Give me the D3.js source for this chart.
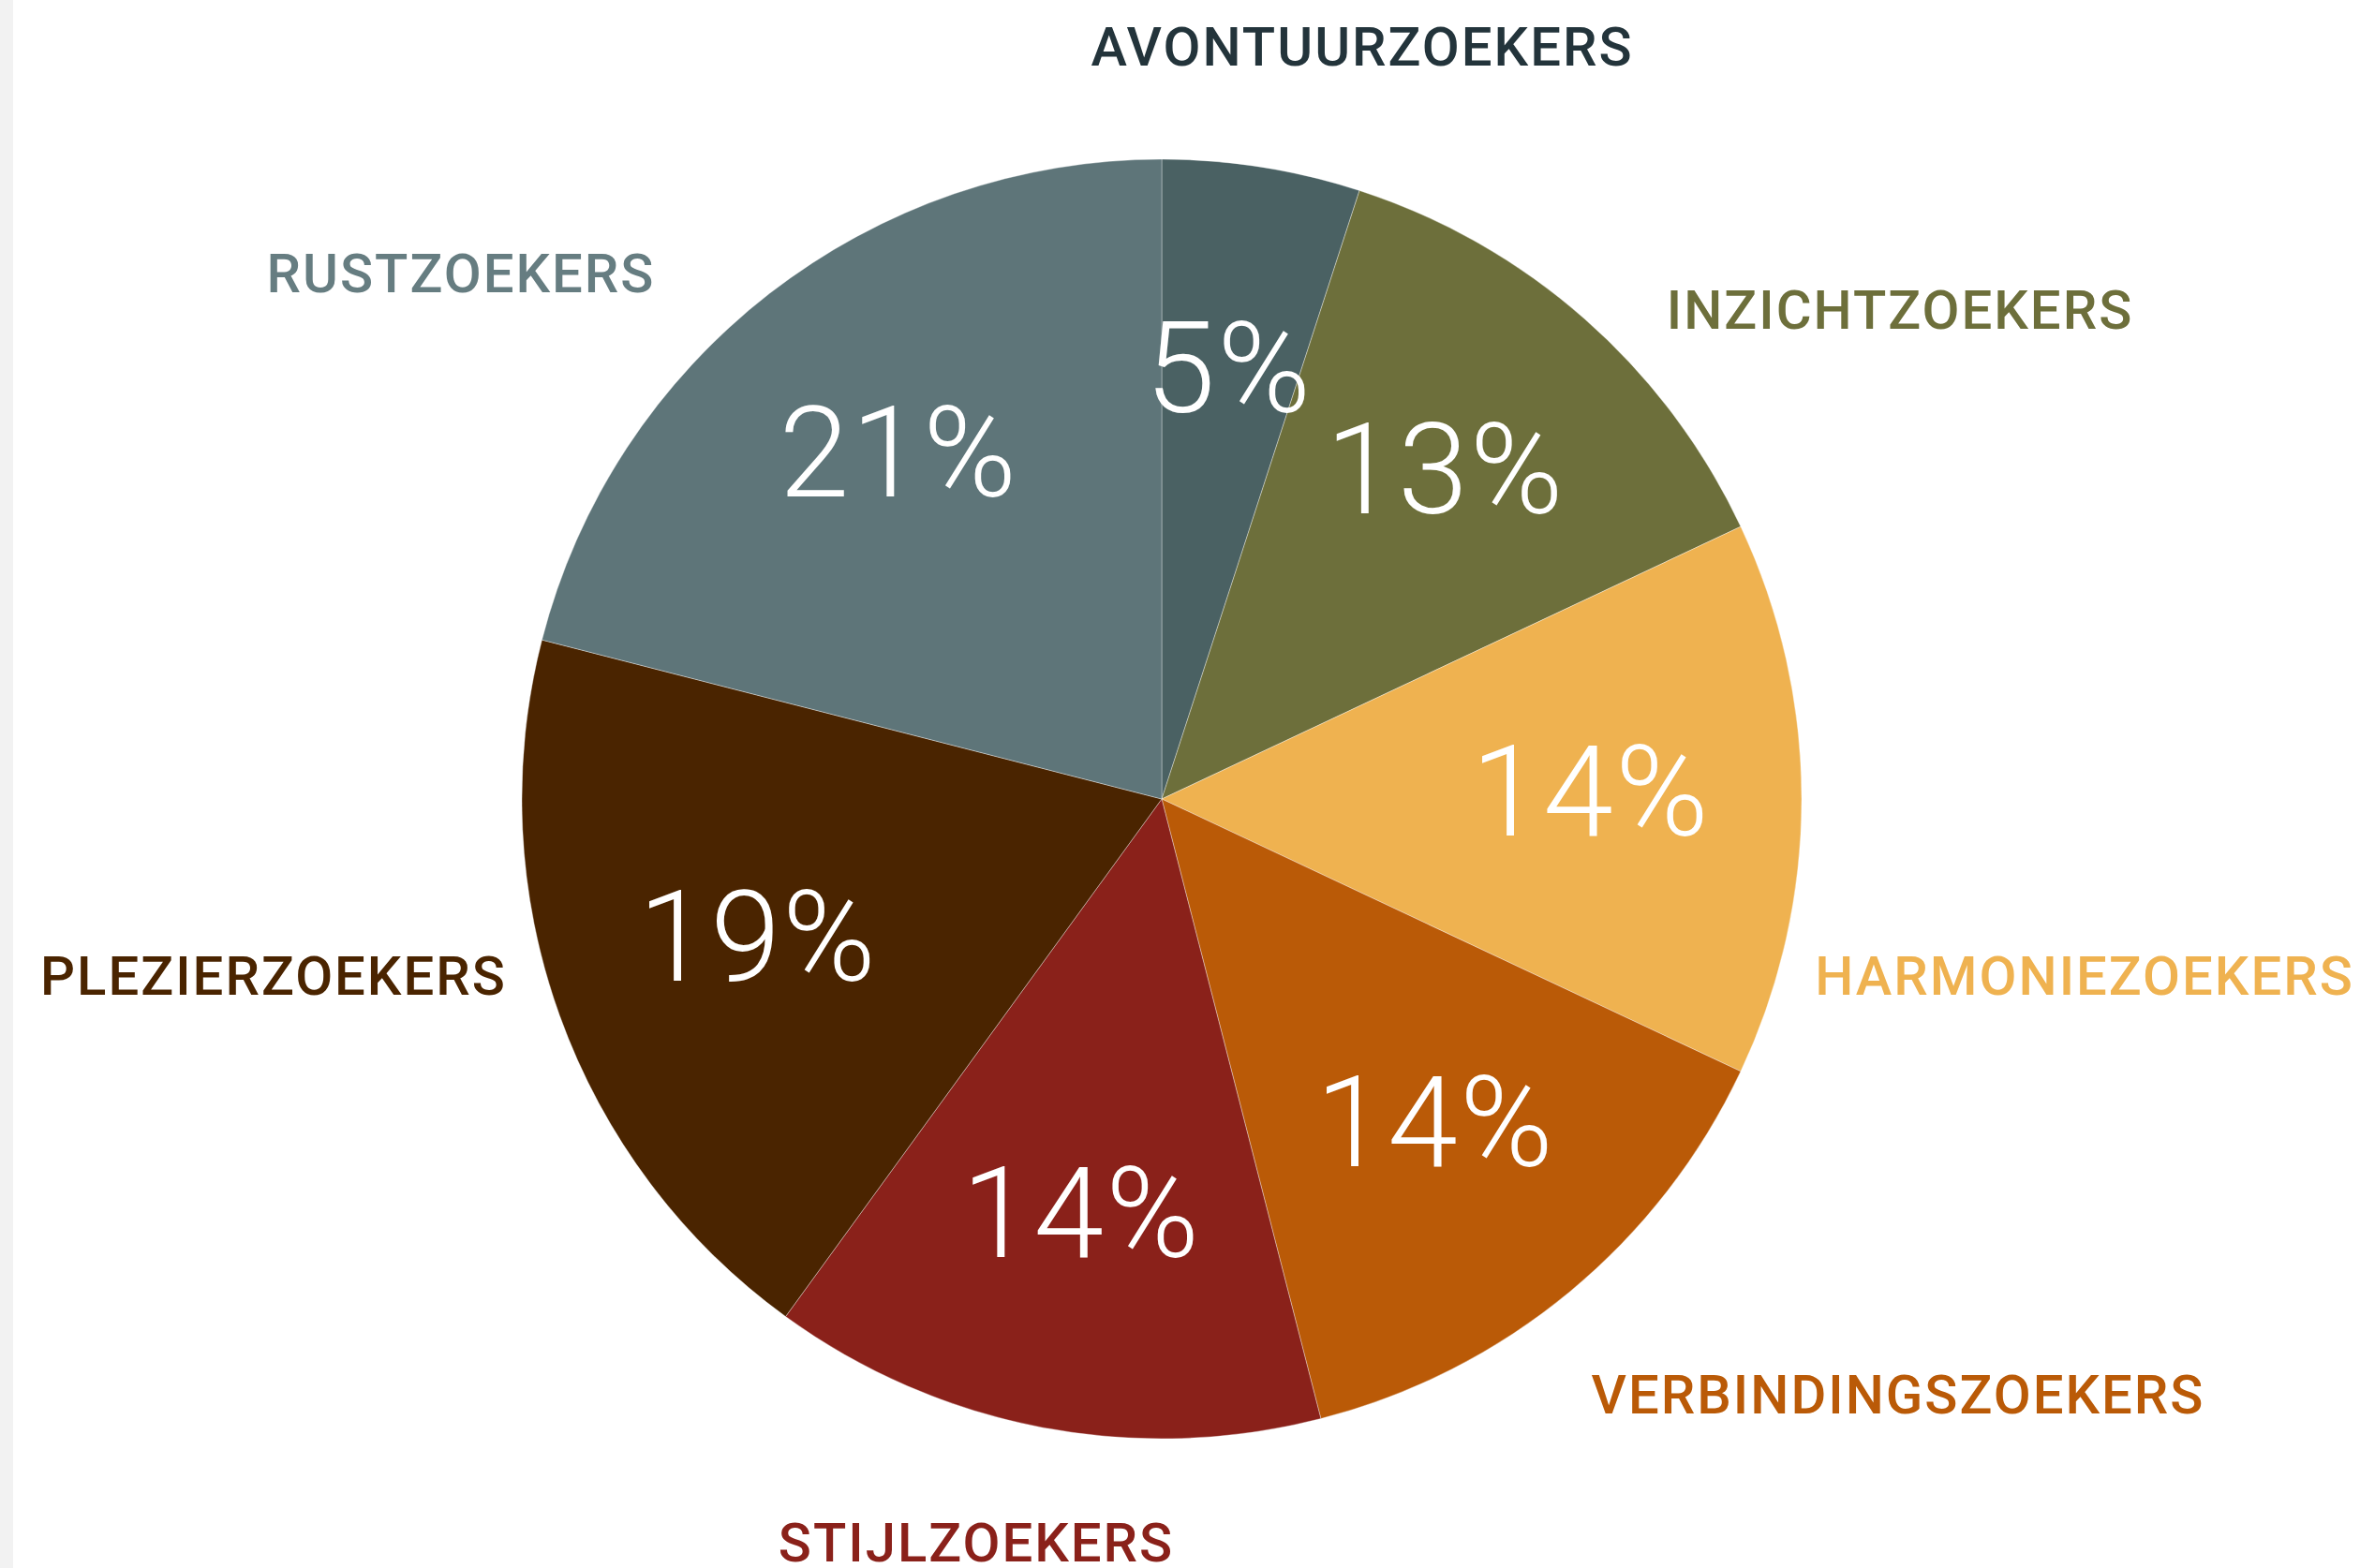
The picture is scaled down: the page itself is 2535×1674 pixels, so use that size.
<!DOCTYPE html>
<html>
<head>
<meta charset="utf-8">
<script src="https://cdn.jsdelivr.net/npm/d3@7"></script>
<style>
  html, body { margin: 0; padding: 0; background: #ffffff; }
  svg { display: block; }
</style>
</head>
<body>
<svg id="chart" width="2535" height="1674"></svg>
<script>
// ---- data ----
const categories = ["AVONTUURZOEKERS", "INZICHTZOEKERS", "HARMONIEZOEKERS", "VERBINDINGSZOEKERS", "STIJLZOEKERS", "PLEZIERZOEKERS", "RUSTZOEKERS"];
const values = [5, 13, 14, 14, 14, 19, 21];
const sliceColors = ["#4a6163", "#6d6f3b", "#efb250", "#ba5a07", "#8a211a", "#4a2400", "#5e7579"];
const labelColors = ["#23343b", "#6d6f3b", "#efb250", "#ba5a07", "#8a211a", "#4a2400", "#667d81"];
// outer label placement (offset of label centre / baseline from pie centre)
const labelOffsets = [[214, -783], [788, -502], [985, 209], [786, 656], [-198, 814], [-948, 209], [-748, -541]];

// ---- layout ----
const W = 2535, H = 1674;
const cx = 1240, cy = 853, R = 683, labelR = 458;

const svg = d3.select("#chart");
svg.append("rect").attr("x", 0).attr("y", 0).attr("width", 14).attr("height", H).attr("fill", "#f2f2f2");

const g = svg.append("g").attr("transform", `translate(${cx},${cy})`);

const pie = d3.pie().sort(null).value(d => d.v);
const data = categories.map((c, i) => ({ name: c, v: values[i], i }));
const arcs = pie(data);

const arc = d3.arc().innerRadius(0).outerRadius(R);
const labelArc = d3.arc().innerRadius(labelR).outerRadius(labelR);

g.selectAll("path.slice")
  .data(arcs)
  .join("path")
  .attr("class", "slice")
  .attr("d", arc)
  .attr("fill", d => sliceColors[d.data.i])
  .attr("stroke", "#ffffff")
  .attr("stroke-opacity", 0.35)
  .attr("stroke-width", 1);

g.selectAll("text.pct")
  .data(arcs)
  .join("text")
  .attr("class", "pct")
  .attr("x", d => labelArc.centroid(d)[0])
  .attr("y", d => labelArc.centroid(d)[1] + 39)
  .attr("text-anchor", "middle")
  .attr("font-family", "Roboto, 'DejaVu Sans', sans-serif")
  .attr("font-weight", 300)
  .attr("font-size", 135)
  .attr("letter-spacing", "2px")
  .attr("fill", "#ffffff")
  .text(d => d.data.v + "%");

g.selectAll("text.cat")
  .data(arcs)
  .join("text")
  .attr("class", "cat")
  .attr("x", d => labelOffsets[d.data.i][0])
  .attr("y", d => labelOffsets[d.data.i][1])
  .attr("text-anchor", "middle")
  .attr("font-family", "Roboto, 'DejaVu Sans', sans-serif")
  .attr("font-weight", 500)
  .attr("font-size", 58)
  .attr("letter-spacing", "2px")
  .attr("fill", d => labelColors[d.data.i])
  .text(d => d.data.name);
</script>
</body>
</html>
